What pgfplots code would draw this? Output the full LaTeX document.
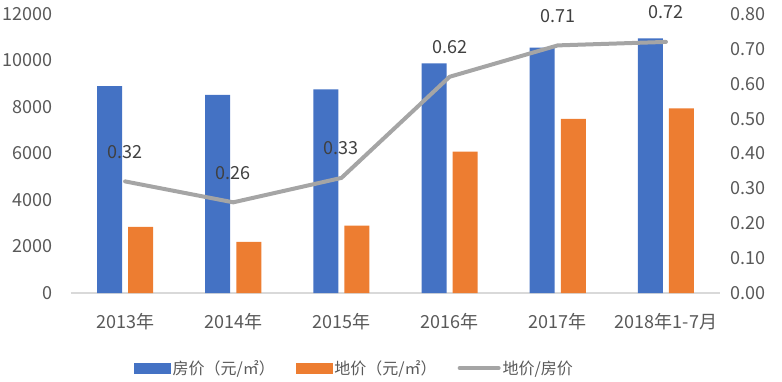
\documentclass[border=0pt]{standalone}
\usepackage{fontspec}
\setmainfont{Noto Sans CJK SC}
\usepackage{pgfplots}
\pgfplotsset{compat=1.18}
\definecolor{cblue}{HTML}{4472C4}
\definecolor{corange}{HTML}{ED7D31}
\definecolor{cgrey}{HTML}{A5A5A5}
\definecolor{caxis}{HTML}{D9D9D9}
\definecolor{ctext}{HTML}{595959}
\definecolor{clabel}{HTML}{404040}
\begin{document}
\begin{tikzpicture}
\useasboundingbox (0,0) rectangle (782pt,381pt);
\pgfplotsset{
  base/.style={
    at={(71pt,88pt)}, anchor=south west,
    scale only axis, width=649pt, height=279pt,
    xmin=-0.5, xmax=5.5,
    major tick length=0pt,
    tick style={draw=none},
    scaled ticks=false,
    /pgf/number format/assume math mode=true,
    tick label style={font=\fontsize{18}{21}\selectfont, text=ctext, inner sep=0pt},
  }
}
\begin{axis}[base,
  ymin=0, ymax=12000,
  ytick={0,2000,4000,6000,8000,10000,12000},
  yticklabel style={/pgf/number format/set thousands separator={}, xshift=-18pt},
  xtick={0,1,2,3,4,5},
  xticklabels={2013年,2014年,2015年,2016年,2017年,2018年1-7月},
  xticklabel style={yshift=-20pt},
  axis x line*=bottom, axis y line*=left,
  x axis line style={draw=caxis, line width=1.2pt},
  y axis line style={draw=none},
]
\addplot[ybar, bar width=0.231, bar shift=-0.1435, fill=cblue, draw=none]
  coordinates {(0,8900) (1,8520) (2,8760) (3,9880) (4,10550) (5,10950)};
\addplot[ybar, bar width=0.231, bar shift=0.1435, fill=corange, draw=none]
  coordinates {(0,2840) (1,2195) (2,2895) (3,6080) (4,7485) (5,7945)};
\end{axis}
\begin{axis}[base,
  ymin=0, ymax=0.8,
  ytick={0,0.1,0.2,0.3,0.4,0.5,0.6,0.7,0.8},
  yticklabel style={/pgf/number format/fixed, /pgf/number format/zerofill, /pgf/number format/precision=2, xshift=10pt},
  axis x line=none,
  axis y line*=right,
  y axis line style={draw=none},
  legend columns=3,
  legend style={draw=none, fill=none, at={(0.437,-0.269)}, anchor=center,
    font=\fontsize{16}{19}\selectfont, text=ctext,
    /tikz/every even column/.append style={column sep=19pt}},
]
\addlegendimage{legend image code/.code={\fill[cblue] (0pt,-5pt) rectangle (36pt,5pt);}}
\addlegendentry{房价（元/㎡）}
\addlegendimage{legend image code/.code={\fill[corange] (0pt,-5pt) rectangle (36pt,5pt);}}
\addlegendentry{地价（元/㎡）}
\addplot[cgrey, line width=4pt, line join=round, line cap=round, mark=none,
  nodes near coords,
  point meta=explicit,
  nodes near coords style={/pgf/number format/fixed, /pgf/number format/zerofill, /pgf/number format/precision=2,
    anchor=base, yshift=23pt, inner sep=0pt, font=\fontsize{18}{21}\selectfont, text=clabel},
  legend image code/.code={\draw[cgrey, line width=4pt, line cap=round] (0pt,0pt) -- (39pt,0pt);}]
  coordinates {(0,0.32) [0.32] (1,0.26) [0.26] (2,0.33) [0.33] (3,0.62) [0.62] (4,0.71) [0.71] (5,0.72) [0.72]};
\addlegendentry{地价/房价}
\end{axis}
\end{tikzpicture}
\end{document}
